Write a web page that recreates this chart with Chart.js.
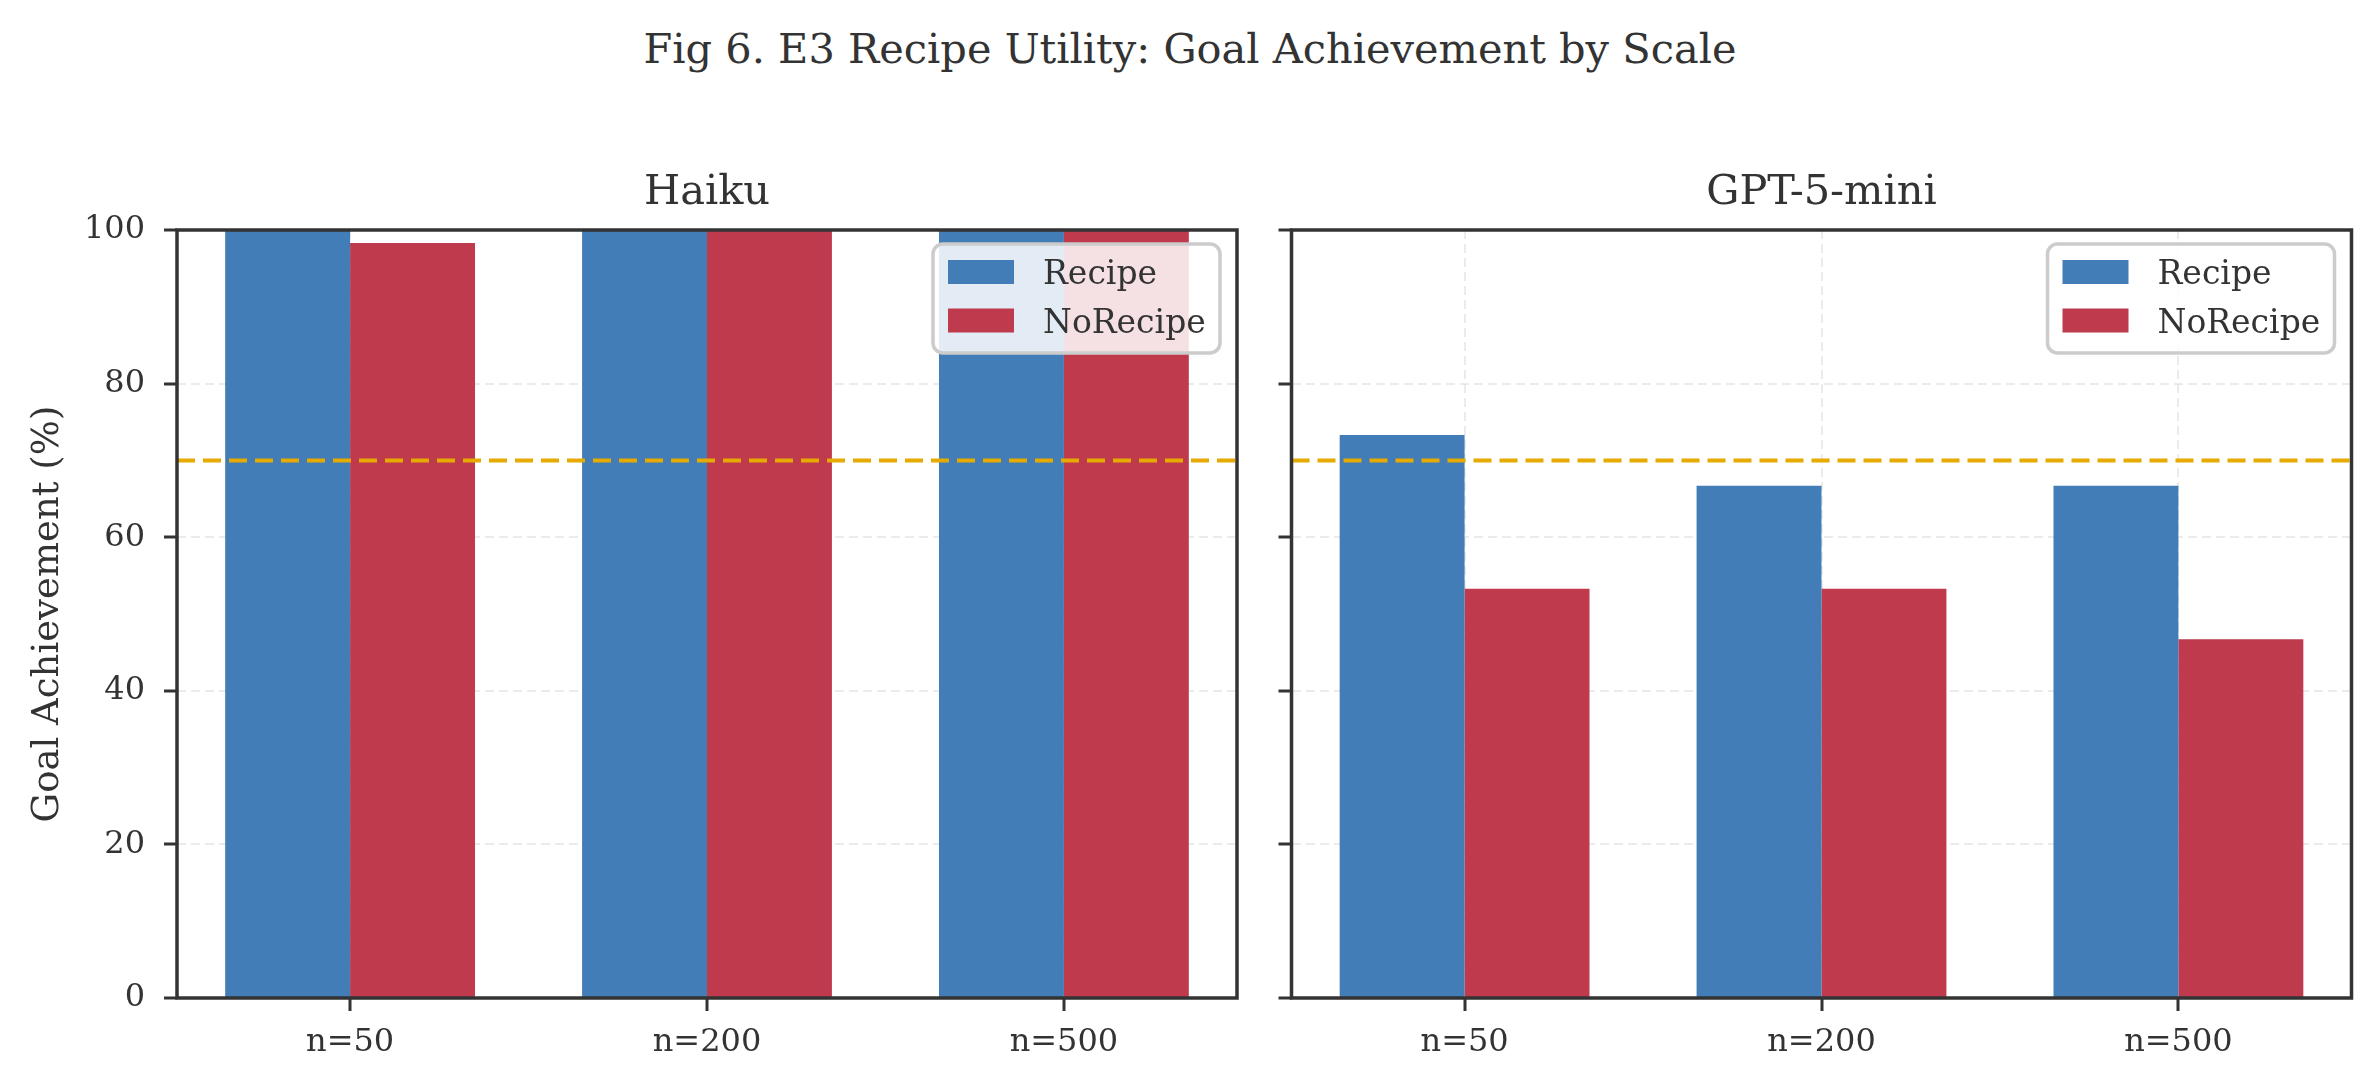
<!DOCTYPE html>
<html>
<head>
<meta charset="utf-8">
<title>Fig 6. E3 Recipe Utility</title>
<script src="https://cdn.jsdelivr.net/npm/chart.js@4.4.1/dist/chart.umd.min.js"></script>
<style>
  html, body { margin: 0; padding: 0; background: #fff; }
  #wrap { position: relative; width: 2380px; height: 1089px; overflow: hidden; }
  canvas { position: absolute; top: 0; }
  #left { left: 0; width: 1250px; height: 1089px; }
  #right { left: 1250px; width: 1130px; height: 1089px; }
  #suptitle {
    position: absolute; left: 0; top: 28px; width: 2380px;
    text-align: center; font: 41.5px 'DejaVu Serif', serif; line-height: 1;
    color: #333;
  }
</style>
</head>
<body>
<div id="wrap">
  <div id="suptitle">Fig 6. E3 Recipe Utility: Goal Achievement by Scale</div>
  <canvas id="left" width="1250" height="1089"></canvas>
  <canvas id="right" width="1130" height="1089"></canvas>
</div>
<script>
// data
const categories = ['n=50', 'n=200', 'n=500'];
const seriesNames = ['Recipe', 'NoRecipe'];
const haikuRecipe = [100, 100, 100];
const haikuNoRecipe = [98.3, 100, 100];
const gptRecipe = [73.3, 66.7, 66.7];
const gptNoRecipe = [53.3, 53.3, 46.7];
const yTicks = [0, 20, 40, 60, 80, 100];
const threshold = 70;

// styles
const blue = '#427db7';
const red = '#be3a4c';
const gold = '#e6aa00';
const textColor = '#333333';
const spineColor = '#333333';
const gridColor = 'rgba(210,210,210,0.45)';
const serif = "'DejaVu Serif', serif";

function toPoints(vals) {
  return vals.map((v, i) => ({ x: i, y: v }));
}

// threshold line, frame, subplot title and legend
const panelDecor = {
  id: 'panelDecor',
  afterDatasetsDraw(chart) {
    const { ctx, chartArea: a, scales: { y } } = chart;
    const py = y.getPixelForValue(threshold);
    ctx.save();
    ctx.strokeStyle = gold;
    ctx.lineWidth = 4;
    ctx.setLineDash([18, 8]);
    ctx.beginPath();
    ctx.moveTo(a.left, py);
    ctx.lineTo(a.right, py);
    ctx.stroke();
    ctx.restore();
  },
  afterDraw(chart, args, opts) {
    const { ctx, chartArea: a } = chart;
    ctx.save();
    // spines
    ctx.strokeStyle = spineColor;
    ctx.lineWidth = 3.5;
    ctx.strokeRect(a.left, a.top, a.right - a.left, a.bottom - a.top);

    // subplot title
    ctx.fillStyle = textColor;
    ctx.font = '41.5px ' + serif;
    ctx.textAlign = 'center';
    ctx.textBaseline = 'alphabetic';
    ctx.fillText(opts.title, (a.left + a.right) / 2, 204);

    // legend box
    const w = 287, h = 109;
    const bx = a.right - 17 - w, by = a.top + 14;
    ctx.beginPath();
    if (ctx.roundRect) ctx.roundRect(bx, by, w, h, 10);
    else ctx.rect(bx, by, w, h);
    ctx.fillStyle = 'rgba(255,255,255,0.85)';
    ctx.fill();
    ctx.lineWidth = 3.5;
    ctx.strokeStyle = '#cccccc';
    ctx.stroke();
    chart.data.datasets.forEach((ds, i) => {
      const cy = by + 28 + i * 48.5;
      ctx.fillStyle = ds.backgroundColor;
      ctx.fillRect(bx + 15, cy - 12, 66, 24);
      ctx.fillStyle = textColor;
      ctx.font = '33px ' + serif;
      ctx.textAlign = 'left';
      ctx.textBaseline = 'alphabetic';
      ctx.fillText(ds.label, bx + 110, cy + 12);
    });
    ctx.restore();
  }
};

function makePanel(id, title, recipe, noRecipe, yWidth, padRight, first) {
  return new Chart(document.getElementById(id), {
    type: 'bar',
    data: {
      datasets: [
        { label: seriesNames[0], data: toPoints(recipe), backgroundColor: blue, borderWidth: 0 },
        { label: seriesNames[1], data: toPoints(noRecipe), backgroundColor: red, borderWidth: 0 }
      ]
    },
    plugins: [panelDecor],
    options: {
      responsive: false,
      devicePixelRatio: 1,
      animation: false,
      layout: { padding: { top: 230, right: padRight, bottom: 0, left: 0 } },
      datasets: { bar: { barPercentage: 1.0, categoryPercentage: 0.7 } },
      plugins: {
        legend: { display: false },
        title: { display: false },
        tooltip: { enabled: false },
        panelDecor: { title: title }
      },
      scales: {
        x: {
          type: 'linear',
          min: -0.485,
          max: 2.485,
          bounds: 'data',
          offset: false,
          z: 1,
          afterBuildTicks: s => { s.ticks = categories.map((c, i) => ({ value: i })); },
          afterFit: s => { s.height = 91; },
          ticks: {
            callback: v => categories[v],
            color: textColor,
            font: { family: serif, size: 32 },
            padding: 12,
            maxRotation: 0,
            autoSkip: false
          },
          grid: {
            offset: false,
            color: gridColor,
            lineWidth: 2,
            tickColor: spineColor,
            tickWidth: 3,
            tickLength: 13
          },
          border: { display: false, dash: [9, 5] }
        },
        y: {
          min: 0,
          max: 100,
          bounds: 'data',
          z: 1,
          afterBuildTicks: s => { s.ticks = yTicks.map(v => ({ value: v })); },
          afterFit: s => { s.width = yWidth; },
          ticks: {
            color: first ? textColor : 'rgba(0,0,0,0)',
            font: { family: serif, size: 32 },
            padding: 19
          },
          grid: {
            color: gridColor,
            lineWidth: 2,
            tickColor: spineColor,
            tickWidth: 3,
            tickLength: 13
          },
          border: { display: false, dash: [9, 5] },
          title: {
            display: first,
            text: 'Goal Achievement (%)',
            color: textColor,
            font: { family: serif, size: 37 },
            padding: { top: 26, bottom: 0 }
          }
        }
      }
    }
  });
}

makePanel('left', 'Haiku', haikuRecipe, haikuNoRecipe, 177, 13, true);
makePanel('right', 'GPT-5-mini', gptRecipe, gptNoRecipe, 41.5, 28.5, false);
</script>
</body>
</html>
